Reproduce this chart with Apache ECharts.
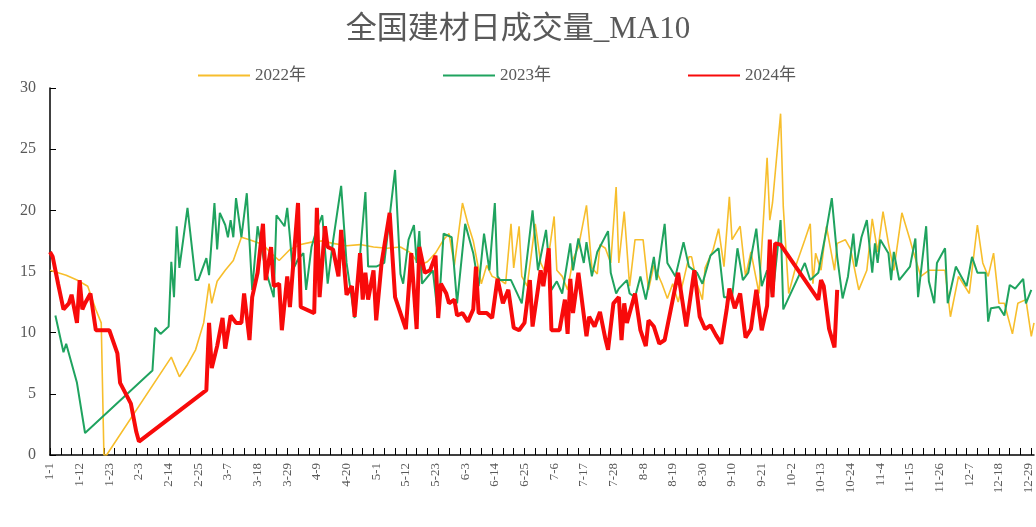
<!DOCTYPE html>
<html>
<head>
<meta charset="utf-8">
<script src="https://cdn.jsdelivr.net/npm/echarts@6/dist/echarts.min.js"></script>
<style>
  html, body { margin: 0; padding: 0; background: #fff; }
  #chart { width: 1036px; height: 527px; }
</style>
</head>
<body>
<div id="chart"></div>
<script>
// category labels: every day of a leap year, m-d
const monthDays = [31, 29, 31, 30, 31, 30, 31, 31, 30, 31, 30, 31]
const dates = []
monthDays.forEach((n, m) => {
  for (let d = 1; d <= n; d++) dates.push((m + 1) + '-' + d)
})

// day index (0 = 1-1) and MA10 value
const days2022 = [0, 6, 10, 14, 17, 19, 20, 21, 45, 48, 51, 54, 57, 59, 60, 62, 65, 68, 71, 74, 79, 82, 85, 89, 93, 97, 101, 105, 110, 115, 120, 125, 130, 134, 137, 140, 143, 146, 148, 150, 153, 155, 157, 160, 162, 164, 167, 169, 171, 172, 174, 175, 177, 180, 182, 184, 187, 188, 190, 192, 194, 196, 199, 201, 203, 204, 206, 208, 210, 211, 213, 215, 217, 220, 222, 224, 227, 229, 231, 233, 235, 237, 238, 240, 242, 243, 246, 248, 250, 252, 253, 256, 258, 260, 263, 266, 267, 268, 271, 272, 274, 277, 280, 282, 283, 284, 286, 288, 291, 292, 295, 297, 300, 303, 305, 307, 309, 311, 313, 316, 319, 320, 323, 326, 329, 332, 334, 337, 341, 344, 346, 348, 350, 352, 354, 357, 359, 362, 364, 365]
const vals2022 = [15.1, 14.7, 14.3, 13.8, 11.9, 10.8, 0, 0, 8, 6.4, 7.4, 8.6, 10.8, 14, 12.4, 14.2, 15.1, 15.9, 17.8, 17.6, 17.2, 16.5, 15.9, 16.8, 17.2, 17.4, 17.5, 17.3, 17.1, 17.2, 17, 16.9, 17, 16.5, 15.5, 15.8, 16.5, 17.6, 18.1, 15.5, 20.6, 18.9, 17.5, 14, 15.5, 14.6, 14.3, 14, 18.9, 15.3, 18.7, 14.6, 13.8, 18.9, 15.7, 14.8, 19.5, 15.1, 14.6, 13.5, 16, 17, 20.4, 15.3, 14.8, 17.2, 16.9, 15.7, 21.9, 15.7, 19.9, 13.8, 17.6, 17.6, 13.5, 15.5, 14, 12.8, 14, 12.5, 14.3, 16.2, 16.2, 14, 12.7, 15.3, 16.8, 18.5, 15.4, 21.1, 17.6, 18.7, 14.6, 16.6, 13.2, 24.3, 19.2, 20.6, 27.9, 20.3, 13.2, 15.7, 17.6, 18.9, 14, 16.5, 15.1, 18.7, 15.1, 17.3, 17.6, 16.8, 13.5, 15.1, 19.3, 16.6, 19.9, 17.3, 15.1, 19.8, 17.6, 16.8, 14.6, 15.1, 15.1, 15.1, 11.3, 14.6, 13.2, 18.8, 15.7, 14.6, 16.5, 12.4, 12.4, 9.9, 12.4, 12.7, 9.7, 10.8]

const days2023 = [2, 5, 6, 8, 10, 13, 38, 39, 41, 44, 45, 46, 47, 48, 51, 54, 55, 58, 59, 61, 62, 63, 65, 66, 67, 68, 69, 71, 73, 75, 77, 80, 83, 84, 87, 88, 89, 90, 92, 94, 95, 97, 99, 101, 103, 105, 108, 110, 113, 117, 118, 121, 124, 128, 130, 131, 133, 135, 136, 137, 138, 142, 144, 146, 149, 151, 154, 157, 159, 161, 163, 165, 166, 167, 171, 175, 179, 181, 184, 186, 188, 190, 193, 194, 196, 198, 199, 201, 203, 207, 208, 210, 211, 214, 215, 217, 219, 221, 224, 225, 228, 229, 232, 235, 237, 240, 242, 245, 248, 250, 253, 255, 257, 259, 262, 264, 266, 268, 271, 272, 276, 280, 282, 285, 288, 290, 292, 294, 296, 298, 299, 301, 303, 305, 306, 307, 308, 311, 312, 313, 315, 319, 321, 322, 325, 326, 328, 329, 332, 333, 336, 338, 340, 342, 344, 347, 348, 349, 352, 354, 356, 358, 361, 362, 364]
const vals2023 = [11.4, 8.4, 9.1, 7.5, 5.9, 1.8, 6.9, 10.4, 9.9, 10.5, 15.8, 12.9, 18.7, 15.3, 20.2, 14.3, 14.3, 16.1, 14.7, 20.6, 16.8, 19.8, 18.8, 17.8, 19.2, 17.8, 21, 17.8, 21.4, 13.5, 18.7, 15.1, 12.9, 19.6, 18.7, 20.2, 17.8, 15.1, 16, 16.5, 13.5, 17, 18.5, 19.6, 14, 17.5, 22, 15.7, 11.2, 21.5, 15.4, 15.4, 15.7, 23.3, 14.8, 14, 17.6, 18.8, 15.7, 18.3, 14, 15.1, 11.2, 18.1, 17.8, 12.4, 18.9, 16.5, 13.8, 18.1, 15.1, 20.6, 14.6, 14.3, 14.3, 12.4, 20, 15.1, 18.4, 13.5, 14.2, 13.2, 17.3, 15.1, 17.7, 15.7, 17.4, 14.6, 16.6, 18.3, 14.9, 13.2, 13.6, 14.3, 13.2, 12.9, 14.6, 12.7, 16.2, 14.3, 18.9, 15.7, 14.6, 17.4, 15.4, 14.9, 14, 16.3, 16.9, 12.9, 12.9, 16.9, 14.3, 14.9, 18.5, 13.8, 15.1, 12.9, 19.2, 11.9, 13.8, 15.7, 14.3, 14.9, 18.4, 21, 16.2, 12.8, 14.6, 18.1, 15.4, 17.8, 19.2, 14.9, 17.3, 15.7, 17.6, 16.5, 14.3, 16.6, 14.3, 15.4, 17.7, 12.9, 18.7, 14.2, 12.4, 15.7, 16.9, 12.4, 15.4, 14.6, 13.8, 16.2, 14.9, 14.9, 10.9, 12, 12.1, 11.4, 13.9, 13.6, 14.4, 12.4, 13.5]

const days2024 = [0, 1, 3, 5, 7, 8, 10, 11, 12, 13, 15, 17, 20, 22, 25, 26, 30, 32, 33, 58, 59, 60, 62, 64, 65, 67, 69, 71, 72, 74, 75, 77, 79, 80, 82, 83, 85, 86, 88, 89, 92, 93, 98, 99, 100, 102, 103, 105, 107, 108, 110, 112, 113, 115, 116, 117, 118, 120, 121, 123, 126, 128, 130, 132, 134, 136, 137, 139, 141, 143, 144, 145, 147, 148, 150, 151, 153, 155, 157, 158, 159, 162, 164, 166, 168, 170, 172, 174, 176, 178, 179, 182, 183, 185, 186, 189, 191, 192, 193, 194, 196, 199, 200, 202, 204, 206, 207, 209, 211, 212, 213, 214, 217, 219, 221, 222, 224, 226, 228, 231, 233, 236, 239, 241, 243, 245, 247, 249, 251, 252, 254, 256, 258, 260, 262, 264, 266, 267, 268, 269, 271, 285, 286, 287, 289, 291, 292]
const vals2024 = [16.6, 16.2, 14, 11.9, 12.4, 13.1, 10.8, 14.3, 11.9, 12.4, 13.2, 10.2, 10.2, 10.2, 8.3, 5.9, 4.2, 1.9, 1.1, 5.3, 10.8, 7.1, 8.9, 11.2, 8.7, 11.4, 10.8, 10.8, 13.2, 9.4, 12.9, 14.9, 18.9, 14.3, 17, 13.8, 14, 10.2, 14.6, 12.1, 20.6, 12.1, 11.6, 20.2, 12.9, 18.7, 17, 16.8, 14.6, 18.4, 13.1, 13.8, 11.3, 16.5, 12.7, 14.9, 12.7, 15.1, 11, 15.7, 19.8, 12.9, 11.6, 10.3, 16.5, 10.3, 17, 14.9, 15.1, 16.3, 11.2, 14, 13.2, 12.4, 12.7, 11.4, 11.6, 10.9, 11.9, 15.4, 11.6, 11.6, 11.2, 14.4, 12.4, 13.5, 10.4, 10.2, 10.8, 14.3, 10.5, 15.1, 13.8, 16.9, 10.2, 10.2, 12.7, 9.9, 14.4, 11.6, 14.9, 9.7, 11.3, 10.5, 11.7, 9.5, 8.6, 12.4, 12.9, 9.4, 12.4, 10.8, 13.2, 10.2, 8.9, 11, 10.5, 9.1, 9.4, 12.7, 14.9, 10.5, 15.1, 11.3, 10.3, 10.6, 9.8, 9.1, 11.9, 13.6, 12, 13.2, 9.6, 10.3, 13.5, 10.2, 12.2, 17.6, 12.9, 17.3, 17.2, 12.7, 14.3, 13.8, 10.3, 8.8, 13.5]

const pairs = (ds, vs) => ds.map((d, i) => [d, vs[i]])

const serif = '"Liberation Serif", "DejaVu Serif", "Noto Sans CJK SC", serif'
const gray = '#595959'

const chart = echarts.init(document.getElementById('chart'))
chart.setOption({
  animation: false,
  title: {
    text: '全国建材日成交量_MA10',
    left: 'center',
    top: 9,
    textStyle: { fontFamily: serif, fontSize: 31, fontWeight: 'normal', color: gray }
  },
  legend: {
    left: 192,
    top: 62,
    itemWidth: 52,
    itemHeight: 14,
    itemGap: 136,
    itemStyle: { opacity: 0 },
    textStyle: { fontFamily: serif, fontSize: 17, color: gray },
    data: ['2022年', '2023年', '2024年']
  },
  grid: { left: 50, right: 2, top: 88, bottom: 72 },
  xAxis: {
    type: 'category',
    boundaryGap: false,
    data: dates,
    axisLine: { lineStyle: { color: '#000', width: 1.5 } },
    axisTick: { inside: true, interval: 3, length: 7, lineStyle: { color: '#000' } },
    axisLabel: {
      interval: 10,
      rotate: 90,
      margin: 8,
      fontFamily: serif,
      fontSize: 13,
      color: gray
    },
    splitLine: { show: false }
  },
  yAxis: {
    type: 'value',
    min: 0,
    max: 30,
    interval: 5,
    axisLine: { show: true, lineStyle: { color: '#000', width: 1.5 } },
    axisTick: { show: true, inside: true, length: 6, lineStyle: { color: '#000' } },
    axisLabel: { fontFamily: serif, fontSize: 16, color: gray, margin: 14 },
    splitLine: { show: false }
  },
  series: [
    {
      name: '2022年',
      type: 'line',
      symbol: 'none',
      data: pairs(days2022, vals2022),
      color: '#F7BE2C',
      lineStyle: { width: 1.6 }
    },
    {
      name: '2023年',
      type: 'line',
      symbol: 'none',
      data: pairs(days2023, vals2023),
      color: '#1FA35F',
      lineStyle: { width: 2 }
    },
    {
      name: '2024年',
      type: 'line',
      symbol: 'none',
      data: pairs(days2024, vals2024),
      color: '#F80A0A',
      lineStyle: { width: 4 }
    }
  ]
})
</script>
</body>
</html>
